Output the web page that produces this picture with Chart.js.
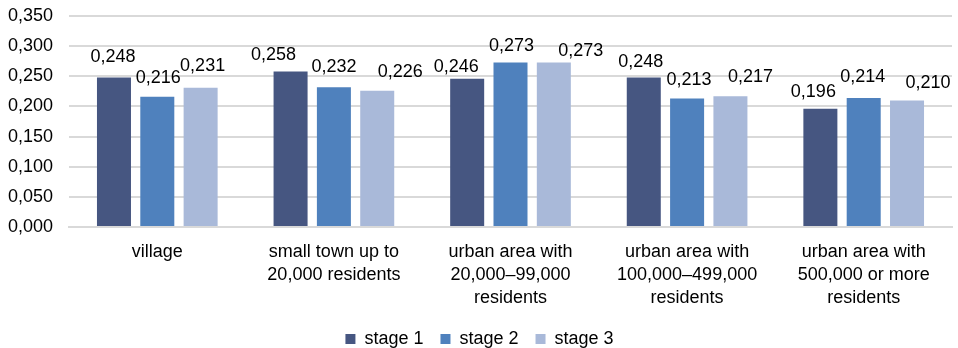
<!DOCTYPE html>
<html>
<head>
<meta charset="utf-8">
<script src="https://cdn.jsdelivr.net/npm/chart.js@4/dist/chart.umd.min.js"></script>
<style>
  html, body { margin: 0; padding: 0; background: #fff; }
  #wrap { width: 958px; height: 348px; }
</style>
</head>
<body>
<div id="wrap"><canvas id="c" width="958" height="348"></canvas></div>
<script>
// Settlement categories (wrapped over several lines on the axis)
const categories = [
  ["village"],
  ["small town up to", "20,000 residents"],
  ["urban area with", "20,000\u201399,000", "residents"],
  ["urban area with", "100,000\u2013499,000", "residents"],
  ["urban area with", "500,000 or more", "residents"]
];
const stage1 = [0.248, 0.258, 0.246, 0.248, 0.196];
const stage2 = [0.216, 0.232, 0.273, 0.213, 0.214];
const stage3 = [0.231, 0.226, 0.273, 0.217, 0.210];
const seriesNames = ["stage 1", "stage 2", "stage 3"];
const yTicks = [0, 0.05, 0.10, 0.15, 0.20, 0.25, 0.30, 0.35];

// Value-label placement tweaks (px): horizontal nudge and lift above the bar
const labelDx = [
  [-1, -17, -11, -3, -7],
  [ 1,   0,   1,  2, -1],
  [ 2,  23,  27, 20, 21]
];
const labelLift = [
  [15, 11, 7, 10, 12],
  [14, 15, 11, 14, 16],
  [17, 14, 6, 14, 12]
];

const colors = ["#465681", "#4f81bd", "#a9b9d9"];
const FONT = "'Liberation Sans', Arial, sans-serif";
const fmt = v => v.toFixed(3).replace('.', ',');

// Value labels drawn above each bar
const valueLabels = {
  id: 'valueLabels',
  afterDatasetsDraw(chart) {
    const ctx = chart.ctx;
    ctx.save();
    ctx.font = "18px " + FONT;
    ctx.fillStyle = "#000";
    ctx.textAlign = "center";
    ctx.textBaseline = "alphabetic";
    chart.data.datasets.forEach((ds, i) => {
      const meta = chart.getDatasetMeta(i);
      meta.data.forEach((bar, j) => {
        ctx.fillText(fmt(ds.data[j]), bar.x + labelDx[i][j], bar.y - labelLift[i][j]);
      });
    });
    ctx.restore();
  }
};

new Chart(document.getElementById('c'), {
  type: 'bar',
  data: {
    labels: categories,
    datasets: [stage1, stage2, stage3].map((d, i) => ({
      label: seriesNames[i],
      data: d,
      backgroundColor: colors[i],
      borderWidth: 0,
      categoryPercentage: 0.736,
      barPercentage: 0.785
    }))
  },
  options: {
    responsive: false,
    animation: false,
    devicePixelRatio: 1,
    layout: { padding: { left: 7, right: 6, top: 16, bottom: -10 } },
    plugins: {
      legend: {
        position: 'bottom',
        labels: {
          font: { family: FONT, size: 18 },
          color: '#000',
          boxWidth: 10,
          boxHeight: 10,
          padding: 17
        }
      },
      tooltip: { enabled: false }
    },
    scales: {
      x: {
        grid: { display: false, drawTicks: false },
        border: { color: '#d9d9d9', width: 2 },
        afterFit(axis) { axis.height = 86; axis.paddingLeft = 0; axis.paddingRight = 0; },
        ticks: {
          font: { family: FONT, size: 18, lineHeight: 1.27 },
          color: '#000',
          padding: 14,
          maxRotation: 0,
          autoSkip: false
        }
      },
      y: {
        min: 0,
        max: 0.35,
        afterBuildTicks(axis) { axis.ticks = yTicks.map(v => ({ value: v })); },
        afterFit(axis) { axis.width = 62; axis.paddingTop = 0; axis.paddingBottom = 0; },
        grid: { color: '#d9d9d9', lineWidth: 2, drawTicks: false },
        border: { display: false },
        ticks: {
          font: { family: FONT, size: 18 },
          color: '#000',
          padding: 16,
          callback: v => fmt(v)
        }
      }
    }
  },
  plugins: [valueLabels]
});
</script>
</body>
</html>
